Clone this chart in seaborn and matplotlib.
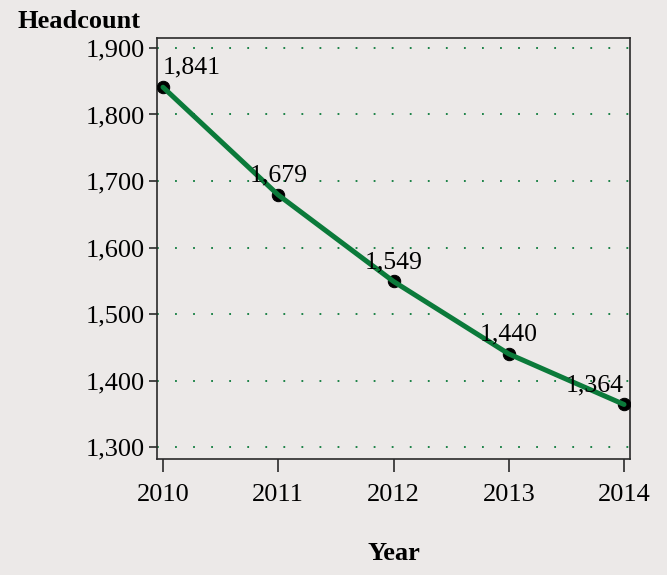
import matplotlib
matplotlib.use('Agg')
import matplotlib.pyplot as plt
import seaborn as sns
import pandas as pd
from matplotlib.ticker import FuncFormatter

years = [2010, 2011, 2012, 2013, 2014]
headcount = [1841, 1679, 1549, 1440, 1364]
y_ticks = [1300, 1400, 1500, 1600, 1700, 1800, 1900]

df = pd.DataFrame({'Year': years, 'Headcount': headcount})

bg = '#ECE9E8'
green = '#0B7A3A'

sns.set_style('ticks')
plt.rcParams['font.family'] = ['Liberation Serif', 'DejaVu Serif']
plt.rcParams['font.size'] = 19
plt.rcParams['text.color'] = 'black'
plt.rcParams['axes.labelcolor'] = 'black'
plt.rcParams['xtick.labelcolor'] = 'black'
plt.rcParams['ytick.labelcolor'] = 'black'

fig = plt.figure(figsize=(6.67, 5.75), dpi=100, facecolor=bg)
ax = fig.add_axes([157 / 667, 1 - 459 / 575, 473 / 667, 421 / 575])
ax.set_facecolor(bg)

# markers sit under the line in the original
sns.scatterplot(data=df, x='Year', y='Headcount', ax=ax, color='black', s=80,
                edgecolor='black', zorder=3)
sns.lineplot(data=df, x='Year', y='Headcount', ax=ax, color=green, linewidth=3.6, zorder=4)

for i, (x, y) in enumerate(zip(years, headcount)):
    ha = 'left' if i == 0 else ('right' if i == len(years) - 1 else 'center')
    ax.annotate(f'{y:,}', (x, y), xytext=(0, 6), textcoords='offset points',
                ha=ha, va='bottom', fontsize=18.5, color='black', zorder=5)

ax.set_xlim(2009.948, 2014.052)
ax.set_ylim(1282, 1915)
ax.set_xticks(years)
ax.set_yticks(y_ticks)
ax.yaxis.set_major_formatter(FuncFormatter(lambda v, p: f'{int(v):,}'))
ax.yaxis.grid(True, linestyle=(0, (1, 9)), color=green, linewidth=1.3)
ax.xaxis.grid(False)

for s in ax.spines.values():
    s.set_visible(True)
    s.set_color('#2a2a2a')
    s.set_linewidth(1.2)
ax.tick_params(axis='x', length=9, width=1.2, color='#2a2a2a', pad=9)
ax.tick_params(axis='y', length=6, width=1.2, color='#2a2a2a', pad=3)

ax.set_xlabel('Year', fontweight='bold', fontsize=19, labelpad=26)
ax.set_ylabel('')
fig.text(18 / 667, 1 - 21 / 575, 'Headcount', fontweight='bold', fontsize=19,
         ha='left', va='center')

fig.savefig('out.png', dpi=100, facecolor=bg)
